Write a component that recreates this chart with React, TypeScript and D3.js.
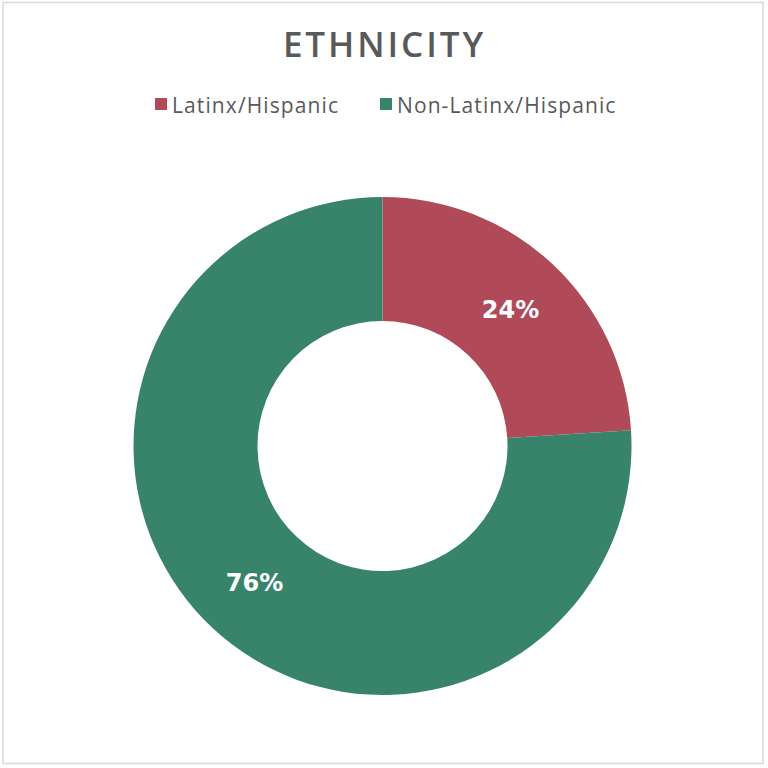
import React from "react";
import * as d3 from "d3";

const categories = ["Latinx/Hispanic", "Non-Latinx/Hispanic"];
const values = [24, 76];
const colors = ["#B04A58", "#38846A"];
const title = "ETHNICITY";

export default function App() {
  const W = 768, H = 768;
  const cx = 382.5, cy = 446;
  const rOuter = 249, rInner = 125;
  const pie = d3.pie<number>().sort(null).value((d) => d);
  const arcs = pie(values);
  const arc = d3.arc<d3.PieArcDatum<number>>().innerRadius(rInner).outerRadius(rOuter);
  const labelArc = d3.arc<d3.PieArcDatum<number>>().innerRadius(187).outerRadius(187);
  const font = "'Open Sans', sans-serif";
  const labelFont = "'DejaVu Sans', sans-serif";
  const legendX = [155, 380];
  return (
    <div style={{ position: "absolute", left: 0, top: 0 }}>
      <svg width={W} height={H} style={{ display: "block" }}>
        <rect x={0} y={0} width={W} height={H} fill="#fff" />
        <rect x={3} y={2.5} width={760} height={761} fill="none" stroke="#d9d9d9" strokeWidth={1.5} />
        <text x={384.5} y={57} textAnchor="middle" fontFamily={font} fontWeight={600} fontSize={35} fill="#595959" letterSpacing={2.9}>
          {title}
        </text>
        {categories.map((c, i) => (
          <g key={c}>
            <rect x={legendX[i]} y={98} width={12} height={12} fill={colors[i]} />
            <text x={legendX[i] + 17} y={113} fontFamily={font} fontSize={21} fill="#595959" letterSpacing={1.1}>
              {c}
            </text>
          </g>
        ))}
        <g transform={`translate(${cx},${cy})`}>
          {arcs.map((a, i) => (
            <path key={i} d={arc(a) || ""} fill={colors[i]} />
          ))}
          {arcs.map((a, i) => {
            const [x, y] = labelArc.centroid(a);
            return (
              <text key={"l" + i} x={x} y={y} dy="0.35em" textAnchor="middle" fontFamily={labelFont} fontWeight={700} fontSize={24} fill="#fff">
                {values[i] + "%"}
              </text>
            );
          })}
        </g>
      </svg>
    </div>
  );
}
